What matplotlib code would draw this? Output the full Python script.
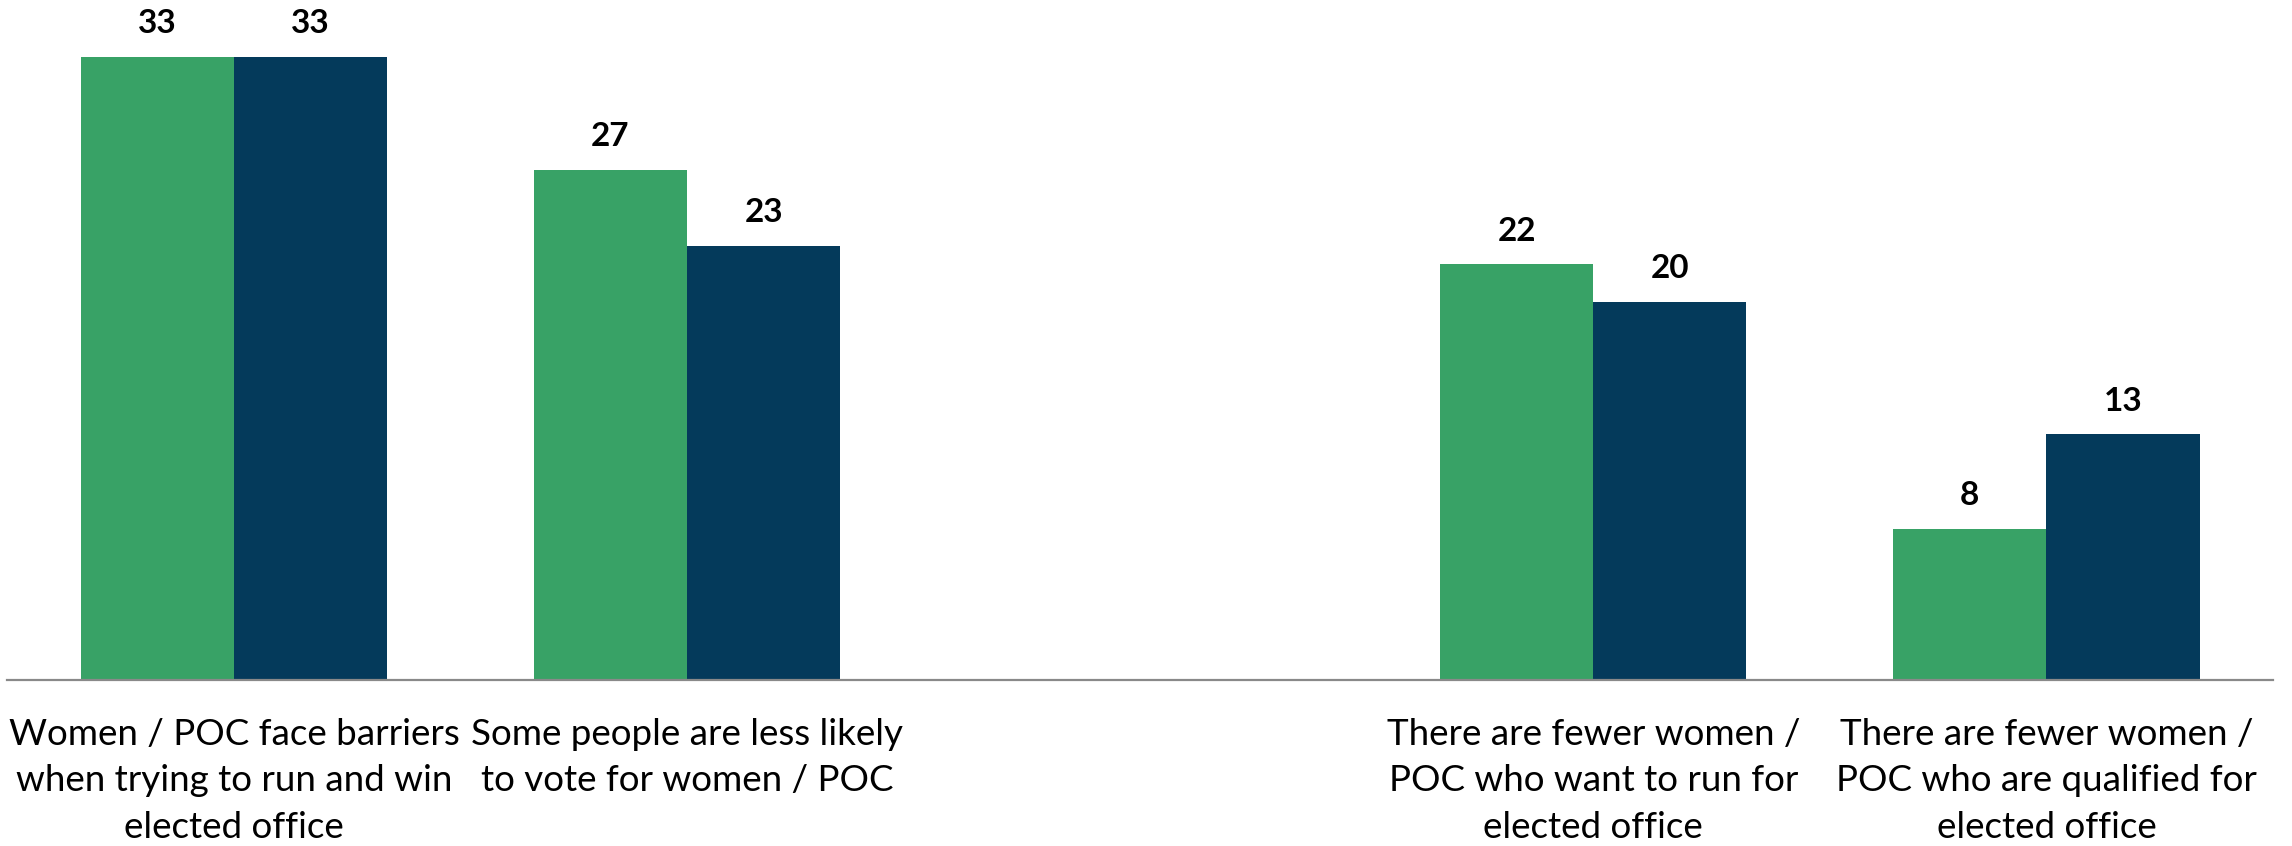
import numpy as np
import matplotlib
matplotlib.use("Agg")
import matplotlib.pyplot as plt

categories = [
    "Women / POC face barriers\nwhen trying to run and win\nelected office",
    "Some people are less likely\nto vote for women / POC",
    "",
    "There are fewer women /\nPOC who want to run for\nelected office",
    "There are fewer women /\nPOC who are qualified for\nelected office",
]
series_a = [33, 27, np.nan, 22, 8]
series_b = [33, 23, np.nan, 20, 13]
colors = ["#38A266", "#043A5B"]

FONT = ["Lato", "DejaVu Sans"]
plt.rcParams["font.family"] = FONT

fig = plt.figure(figsize=(22.92, 8.46), dpi=100)
ax = fig.add_axes([0.0032, 0.1962, 0.9885, 0.8038])

x = np.arange(len(categories))
w = 0.338
for vals, off, c in [(series_a, -w / 2, colors[0]), (series_b, w / 2, colors[1])]:
    v = np.array(vals, dtype=float)
    m = ~np.isnan(v)
    ax.bar(x[m] + off, v[m], width=w, color=c, edgecolor="none")
    for xi, vi in zip(x[m] + off, v[m]):
        ax.annotate(f"{vi:.0f}", (xi, vi), xytext=(0, 24), textcoords="offset points",
                    ha="center", va="center", fontsize=24, fontweight="bold", color="black")

ax.set_xlim(-0.5, len(categories) - 0.5)
ax.set_ylim(0, 36.0)
ax.set_xticks(x)
ax.set_xticklabels(categories, fontsize=26.5, linespacing=1.5)
ax.tick_params(axis="x", length=0, pad=27)
ax.set_yticks([])
for s in ["top", "right", "left"]:
    ax.spines[s].set_visible(False)
ax.spines["bottom"].set_color("#898989")
ax.spines["bottom"].set_linewidth(1.6)

fig.savefig("out.png", dpi=100)
